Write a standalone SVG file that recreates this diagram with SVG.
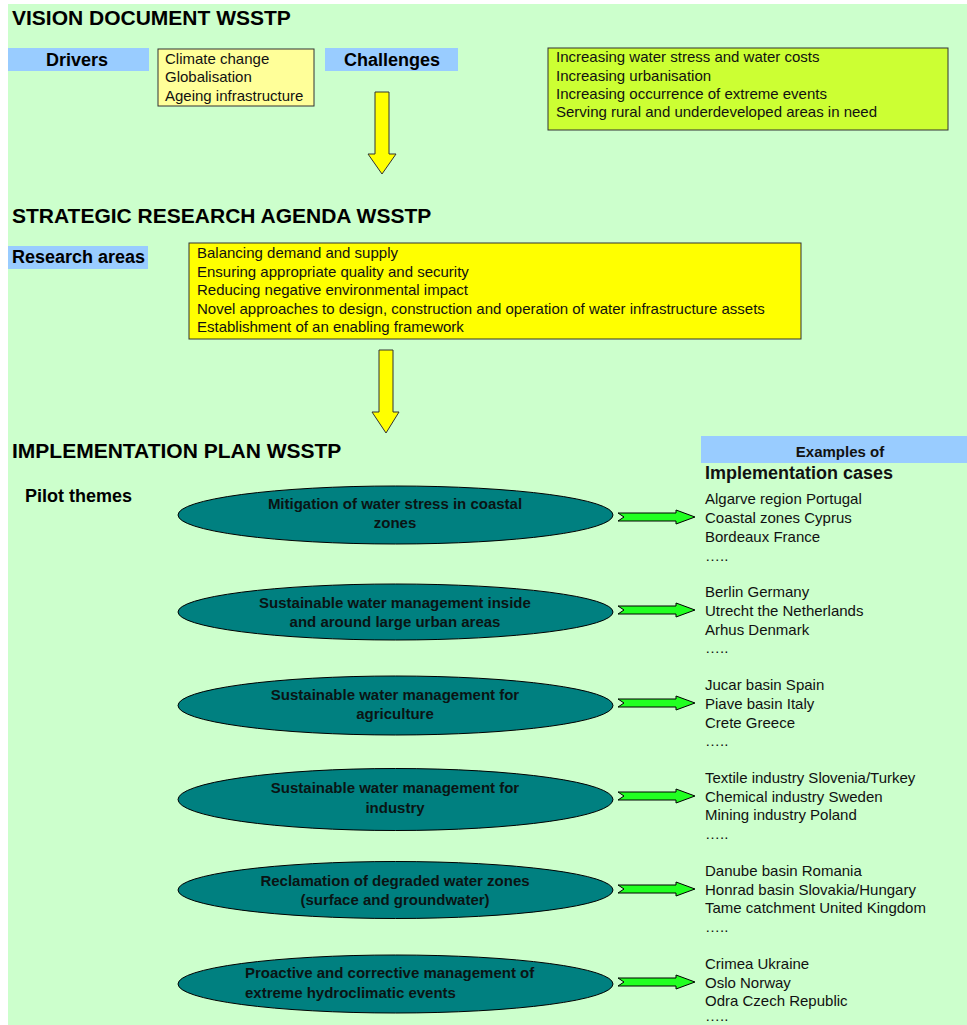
<svg xmlns="http://www.w3.org/2000/svg" width="967" height="1025" viewBox="0 0 967 1025">
<style>
text{font-family:"Liberation Sans",Arial,sans-serif;fill:#000}
.title{font-size:21px;font-weight:bold}
.lbl{font-size:18px;font-weight:bold}
.item{font-size:15px;fill:#111}
.eltxt{font-size:15px;font-weight:bold;fill:#0a1414}
.mid{text-anchor:middle}
.blue{fill:#99CCFF}
.ell{fill:#008080;stroke:#000;stroke-width:1}
.ya{fill:#FFFF00;stroke:#333;stroke-width:1}
.ga{fill:#22FF22;stroke:#000;stroke-width:1}
</style>
<defs>
<path id="garrow" d="M0,-4 L58,-4 L58,-7 L77,0 L58,7 L58,4 L0,4 L6,0 Z"/>
</defs>
<rect x="0" y="0" width="967" height="1025" fill="#FFFFFF"/>
<rect x="8" y="4" width="959" height="1021" fill="#CCFFCC"/>

<g id="vision">
<text class="title" x="12" y="25">VISION DOCUMENT WSSTP</text>
</g>
<g id="drivers">
<rect class="blue" x="8" y="48" width="141" height="23"/>
<text class="lbl mid" x="77" y="66">Drivers</text>
</g>
<g id="drivers-list">
<rect x="158" y="49" width="156" height="57" fill="#FFFF99" stroke="#333" stroke-width="1"/>
<text class="item" x="165" y="64">Climate change</text>
<text class="item" x="165" y="82">Globalisation</text>
<text class="item" x="165" y="101">Ageing infrastructure</text>
</g>
<g id="challenges">
<rect class="blue" x="325" y="48" width="133" height="23"/>
<text class="lbl mid" x="392" y="66">Challenges</text>
</g>
<g id="challenges-list">
<rect x="548" y="48" width="400" height="82" fill="#CCFF33" stroke="#333" stroke-width="1"/>
<text class="item" x="556" y="62">Increasing water stress and water costs</text>
<text class="item" x="556" y="81">Increasing urbanisation</text>
<text class="item" x="556" y="99">Increasing occurrence of extreme events</text>
<text class="item" x="556" y="117">Serving rural and underdeveloped areas in need</text>
</g>

<g id="agenda">
<text class="title" x="12" y="223">STRATEGIC RESEARCH AGENDA WSSTP</text>
</g>
<g id="research-areas">
<rect class="blue" x="8" y="246" width="140" height="23"/>
<text class="lbl" x="12" y="263">Research areas</text>
</g>
<g id="research-list">
<rect x="189" y="243" width="612" height="96" fill="#FFFF00" stroke="#333" stroke-width="1"/>
<text class="item" x="197" y="258">Balancing demand and supply</text>
<text class="item" x="197" y="277">Ensuring appropriate quality and security</text>
<text class="item" x="197" y="295">Reducing negative environmental impact</text>
<text class="item" x="197" y="314">Novel approaches to design, construction and operation of water infrastructure assets</text>
<text class="item" x="197" y="332">Establishment of an enabling framework</text>
</g>

<g id="plan">
<text class="title" x="12" y="458">IMPLEMENTATION PLAN WSSTP</text>
<text class="lbl" x="25" y="502">Pilot themes</text>
</g>
<g id="examples-header">
<rect class="blue" x="701" y="436" width="266" height="27"/>
<text class="mid" x="840" y="457" style="font-size:15px;font-weight:bold;fill:#111">Examples of</text>
<text class="lbl" x="705" y="479" style="fill:#111">Implementation cases</text>
</g>

<g id="theme1">
<ellipse class="ell" cx="395.5" cy="515" rx="217.5" ry="29"/>
<text class="eltxt mid" x="395" y="509">Mitigation of water stress in coastal</text>
<text class="eltxt mid" x="395" y="528">zones</text>
</g>
<g id="cases1">
<text class="item" x="705" y="504">Algarve region Portugal</text>
<text class="item" x="705" y="523">Coastal zones Cyprus</text>
<text class="item" x="705" y="542">Bordeaux France</text>
<text class="item" x="705" y="561">…..</text>
</g>

<g id="theme2">
<ellipse class="ell" cx="395.5" cy="612" rx="217.5" ry="28"/>
<text class="eltxt mid" x="395" y="608">Sustainable water management inside</text>
<text class="eltxt mid" x="395" y="627">and around large urban areas</text>
</g>
<g id="cases2">
<text class="item" x="705" y="597">Berlin Germany</text>
<text class="item" x="705" y="616">Utrecht the Netherlands</text>
<text class="item" x="705" y="635">Arhus Denmark</text>
<text class="item" x="705" y="653">…..</text>
</g>

<g id="theme3">
<ellipse class="ell" cx="395.5" cy="705.5" rx="217.5" ry="29.5"/>
<text class="eltxt mid" x="395" y="700">Sustainable water management for</text>
<text class="eltxt mid" x="395" y="719">agriculture</text>
</g>
<g id="cases3">
<text class="item" x="705" y="690">Jucar basin Spain</text>
<text class="item" x="705" y="709">Piave basin Italy</text>
<text class="item" x="705" y="728">Crete Greece</text>
<text class="item" x="705" y="746">…..</text>
</g>

<g id="theme4">
<ellipse class="ell" cx="395.5" cy="799.5" rx="217.5" ry="31"/>
<text class="eltxt mid" x="395" y="793">Sustainable water management for</text>
<text class="eltxt mid" x="395" y="813">industry</text>
</g>
<g id="cases4">
<text class="item" x="705" y="783">Textile industry Slovenia/Turkey</text>
<text class="item" x="705" y="802">Chemical industry Sweden</text>
<text class="item" x="705" y="820">Mining industry Poland</text>
<text class="item" x="705" y="839">…..</text>
</g>

<g id="theme5">
<ellipse class="ell" cx="395.5" cy="890" rx="217.5" ry="28.5"/>
<text class="eltxt mid" x="395" y="886">Reclamation of degraded water zones</text>
<text class="eltxt mid" x="395" y="905">(surface and groundwater)</text>
</g>
<g id="cases5">
<text class="item" x="705" y="876">Danube basin Romania</text>
<text class="item" x="705" y="895">Honrad basin Slovakia/Hungary</text>
<text class="item" x="705" y="913">Tame catchment United Kingdom</text>
<text class="item" x="705" y="932">…..</text>
</g>

<g id="theme6">
<ellipse class="ell" cx="395.5" cy="984" rx="217.5" ry="29"/>
<text class="eltxt" x="245" y="978">Proactive and corrective management of</text>
<text class="eltxt" x="245" y="998">extreme hydroclimatic events</text>
</g>
<g id="cases6">
<text class="item" x="705" y="969">Crimea Ukraine</text>
<text class="item" x="705" y="988">Oslo Norway</text>
<text class="item" x="705" y="1006">Odra Czech Republic</text>
<text class="item" x="705" y="1021">…..</text>
</g>

<g id="connectors">
<path class="ya" d="M375,92 L389,92 L389,154 L396,154 L382,174 L368,154 L375,154 Z"/>
<path class="ya" d="M379,350 L393,350 L393,412 L399,412 L386,433 L372,412 L379,412 Z"/>
<use href="#garrow" class="ga" x="618" y="517"/>
<use href="#garrow" class="ga" x="618" y="610"/>
<use href="#garrow" class="ga" x="618" y="703"/>
<use href="#garrow" class="ga" x="618" y="796"/>
<use href="#garrow" class="ga" x="618" y="889"/>
<use href="#garrow" class="ga" x="618" y="982"/>
</g>
</svg>
